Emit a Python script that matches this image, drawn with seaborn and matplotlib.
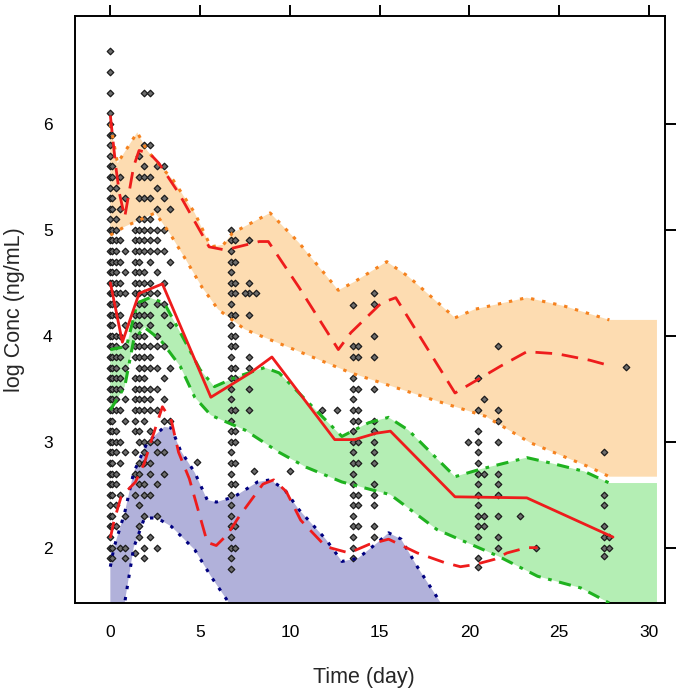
import matplotlib
matplotlib.use("Agg")
import matplotlib.pyplot as plt
import seaborn as sns
import pandas as pd

# observed data, one vertical stack of log conc per sampling time
obs_times = [0.0, 0.12, 0.3, 0.55, 0.8, 1.35, 1.6, 1.9, 2.2, 2.6, 3.0, 3.3,
             4.8, 6.7, 6.95, 7.7, 7.5, 8.1, 8.0, 10.0, 11.8, 12.6,
             13.5, 13.8, 14.7, 19.9, 20.5, 20.8, 21.6, 22.8, 23.7, 27.5, 27.8, 28.7]
obs_concs = [
    [6.69, 6.49, 6.29, 6.1, 6.0, 5.9, 5.8, 5.7, 5.6, 5.5, 5.4, 5.3, 5.2, 5.1, 5.0, 4.9, 4.8, 4.7,
     4.6, 4.5, 4.4, 4.3, 4.2, 4.1, 4.0, 3.9, 3.8, 3.7, 3.6, 3.5, 3.4, 3.3, 3.2, 3.1, 3.0, 2.9,
     2.8, 2.7, 2.6, 2.5, 2.4, 2.3, 2.2, 2.1, 2.0, 1.9],
    [5.9, 5.6, 5.5, 5.3, 5.2, 5.0, 4.9, 4.8, 4.7, 4.6, 4.5, 4.4, 4.3, 4.2, 4.1, 4.0, 3.9, 3.8,
     3.7, 3.6, 3.5, 3.4, 3.3, 3.2, 3.1, 3.0, 2.9, 2.8, 2.7, 2.6, 2.5, 2.3, 2.2, 2.0, 1.9],
    [5.4, 5.1, 5.0, 4.9, 4.8, 4.7, 4.6, 4.5, 4.4, 4.3, 4.2, 4.0, 3.9, 3.8, 3.7, 3.6, 3.5, 3.4,
     3.3, 3.1, 3.0, 2.9, 2.7, 2.6, 2.4, 2.2],
    [5.5, 5.2, 4.9, 4.7, 4.5, 4.4, 4.2, 4.0, 3.8, 3.6, 3.5, 3.3, 3.0, 2.8, 2.5, 2.0],
    [5.3, 4.8, 4.6, 4.4, 4.1, 3.9, 3.7, 3.4, 3.2, 2.9, 2.3, 2.0, 1.9],
    [5.0, 4.9, 4.8, 4.7, 4.6, 4.5, 4.4, 4.2, 4.1, 4.0, 3.9, 3.8, 3.6, 3.5, 3.4, 3.3, 3.2, 3.1,
     2.9, 2.7, 2.5, 1.95],
    [5.7, 5.5, 5.3, 5.1, 5.0, 4.9, 4.8, 4.7, 4.6, 4.5, 4.4, 4.3, 4.2, 4.1, 4.0, 3.9, 3.8, 3.7,
     3.6, 3.5, 3.4, 3.3, 3.1, 3.0, 2.8, 2.7, 2.6, 2.4, 2.2, 2.1],
    [6.29, 5.8, 5.6, 5.5, 5.3, 5.1, 5.0, 4.9, 4.8, 4.6, 4.5, 4.4, 4.3, 4.2, 4.0, 3.9, 3.8, 3.7,
     3.6, 3.5, 3.4, 3.3, 3.2, 3.0, 2.9, 2.8, 2.6, 2.5, 2.3, 2.0, 1.9],
    [6.29, 5.8, 5.5, 5.3, 5.1, 5.0, 4.9, 4.8, 4.7, 4.5, 4.4, 4.2, 4.1, 3.9, 3.8, 3.7, 3.5, 3.4,
     3.3, 3.1, 3.0, 2.8, 2.7, 2.5, 2.1],
    [5.6, 5.4, 5.2, 5.0, 4.9, 4.8, 4.6, 4.4, 4.3, 4.0, 3.9, 3.7, 3.5, 3.3, 3.0, 2.9, 2.6, 2.3, 2.0],
    [5.6, 5.3, 5.0, 4.8, 4.5, 4.3, 4.2, 3.9, 3.6, 3.4, 3.2, 2.9, 2.7],
    [5.2, 4.7, 4.1, 3.7, 3.2],
    [2.81],
    [5.0, 4.9, 4.8, 4.7, 4.6, 4.5, 4.4, 4.3, 4.2, 4.1, 4.0, 3.9, 3.8, 3.7, 3.6, 3.5, 3.4, 3.3,
     3.2, 3.1, 3.0, 2.9, 2.8, 2.7, 2.6, 2.5, 2.4, 2.3, 2.2, 2.1, 2.0, 1.9, 1.8],
    [4.9, 4.7, 4.5, 4.4, 4.2, 4.0, 3.9, 3.7, 3.6, 3.3, 3.1, 3.0, 2.8, 2.6, 2.2, 2.0],
    [4.9, 4.5, 4.4, 4.2, 3.8, 3.7, 3.5, 3.3],
    [4.4], [4.4], [2.72], [2.72], [3.3], [3.3],
    [4.29, 3.9, 3.8, 3.6, 3.5, 3.4, 3.3, 3.2, 3.1, 3.0, 2.9, 2.8, 2.7, 2.6, 2.5, 2.4, 2.3, 2.2,
     2.1, 2.0, 1.9],
    [3.9, 3.8, 3.5, 3.3, 3.2, 3.0, 2.8, 2.5, 2.4, 2.2],
    [4.4, 4.3, 4.0, 3.8, 3.5, 3.2, 3.1, 3.0, 2.9, 2.8, 2.6, 2.5, 2.4, 2.2, 2.1],
    [3.0],
    [3.6, 3.3, 3.1, 3.0, 2.9, 2.8, 2.7, 2.6, 2.5, 2.4, 2.3, 2.2, 2.1, 1.9, 1.82],
    [3.4, 2.7, 2.3, 2.2],
    [3.9, 3.3, 3.2, 3.0, 2.7, 2.6, 2.5, 2.3, 2.1, 2.0],
    [2.3], [2.0],
    [2.9, 2.5, 2.4, 2.2, 2.1, 2.0, 1.92],
    [2.1, 2.0],
    [3.71],
]

# observed percentiles (red)
obs_med_t = [0, 0.67, 1.6, 2.9, 5.6, 7.8, 9.0, 12.5, 13.6, 14.8, 15.6, 19.2, 23.2, 28.0]
obs_med = [4.50, 3.94, 4.40, 4.49, 3.42, 3.65, 3.80, 3.02, 3.02, 3.08, 3.10, 2.48, 2.47, 2.10]
obs_hi_t = [0, 0.3, 0.5, 0.8, 1.3, 1.6, 2.2, 2.7, 3.8, 5.5, 6.4, 8.3, 8.8, 10.5, 12.7, 13.4,
            15.1, 15.9, 19.2, 21.7, 23.2, 24.9, 26.7, 28.0]
obs_hi = [6.08, 5.6, 5.35, 5.12, 5.6, 5.75, 5.72, 5.63, 5.35, 4.84, 4.81, 4.89, 4.89, 4.46, 3.87,
          4.03, 4.31, 4.36, 3.46, 3.71, 3.85, 3.83, 3.77, 3.71]
obs_lo_t = [0, 0.2, 0.6, 1.4, 1.9, 2.3, 2.9, 3.4, 3.8, 4.4, 4.9, 5.4, 5.9, 6.5, 7.2, 8.5, 9.1,
            9.8, 10.6, 12.0, 13.3, 14.4, 15.5, 17.1, 18.6, 19.5, 20.3, 21.4, 22.1, 23.2, 23.8]
obs_lo = [2.09, 2.25, 2.48, 2.62, 2.8, 3.02, 3.33, 3.2, 2.9, 2.65, 2.35, 2.05, 2.02, 2.12, 2.3,
          2.6, 2.64, 2.53, 2.26, 2.01, 1.95, 2.03, 2.08, 1.95, 1.86, 1.82, 1.84, 1.89, 1.95, 2.0, 2.0]

# simulated CI of the 95th percentile (orange)
hi_ci_up_t = [0, 0.4, 1.5, 2.05, 2.8, 3.5, 4.7, 5.6, 6.3, 6.8, 8.9, 10.5, 12.7, 13.6, 15.4,
              16.6, 19.2, 20.3, 23.2, 25.3, 27.8]
hi_ci_up = [6.0, 5.63, 5.92, 5.75, 5.6, 5.47, 5.16, 4.84, 4.86, 4.97, 5.16, 4.88, 4.43, 4.51,
            4.70, 4.56, 4.17, 4.25, 4.36, 4.28, 4.15]
hi_ci_lo_t = [0, 0.8, 2.5, 3.3, 4.2, 5.1, 6.0, 7.5, 10.1, 13.4, 17.9, 20.9, 23.4, 26.7, 27.8]
hi_ci_lo = [4.95, 5.03, 5.16, 4.97, 4.72, 4.46, 4.25, 4.06, 3.88, 3.65, 3.40, 3.24, 2.99, 2.76, 2.67]

# simulated CI of the median (green)
med_ci_up_t = [0, 0.9, 1.5, 2.2, 3.0, 3.9, 5.0, 5.8, 7.0, 8.6, 9.4, 12.9, 14.4, 15.5, 16.6,
               19.2, 20.6, 23.2, 24.5, 26.4, 27.8]
med_ci_up = [3.87, 3.9, 4.31, 4.36, 4.31, 4.03, 3.68, 3.52, 3.61, 3.70, 3.65, 3.05, 3.18, 3.23,
             3.11, 2.67, 2.74, 2.85, 2.80, 2.72, 2.61]
med_ci_lo_t = [0, 0.8, 1.3, 1.9, 2.8, 3.9, 4.7, 5.6, 7.5, 9.4, 10.9, 12.9, 15.6, 18.2, 21.6,
               23.8, 26.2, 27.1, 28.1]
med_ci_lo = [3.3, 3.52, 3.96, 4.08, 3.96, 3.71, 3.42, 3.25, 3.11, 2.9, 2.76, 2.62, 2.5, 2.17,
             1.92, 1.73, 1.62, 1.54, 1.45]

# simulated CI of the 5th percentile (blue)
lo_ci_up_t = [0, 0.2, 0.8, 1.3, 2.05, 3.0, 3.4, 3.9, 4.7, 5.4, 5.9, 6.9, 8.2, 8.9, 9.7, 10.5,
              12.0, 12.9, 13.8, 14.9, 15.5, 16.2, 17.1, 18.4, 19.0]
lo_ci_up = [1.82, 2.0, 2.33, 2.71, 2.99, 3.14, 3.13, 2.92, 2.71, 2.45, 2.43, 2.48, 2.62, 2.64,
            2.55, 2.36, 2.08, 1.87, 1.9, 2.05, 2.14, 2.08, 1.82, 1.48, 1.3]
lo_ci_lo_t = [0, 0.8, 1.3, 1.9, 2.6, 3.4, 4.7, 5.6, 6.6, 8.0, 19.0]
lo_ci_lo = [1.1, 1.48, 2.0, 2.28, 2.28, 2.2, 1.98, 1.73, 1.48, 1.2, 1.2]

band_end = 30.45  # last bin edge, the shaded areas run out to here

sns.set_style("white")
plt.rcParams["font.family"] = ["Liberation Sans", "DejaVu Sans"]

fig = plt.figure(figsize=(6.8, 6.92), dpi=100)
ax = fig.add_axes([0.110, 0.129, 0.868, 0.848])


def band(ax, ut, uy, lt, ly, fill, line, ls, extend=None):
    xs = list(ut) + ([band_end] if extend else []) + \
         ([band_end] if extend else []) + list(lt)[::-1]
    ys = list(uy) + ([extend[0]] if extend else []) + \
         ([extend[1]] if extend else []) + list(ly)[::-1]
    ax.fill(xs, ys, color=fill, lw=0, zorder=1)
    for t, y in ((ut, uy), (lt, ly)):
        sns.lineplot(x=t, y=y, ax=ax, sort=False, color=line, lw=2.2,
                     linestyle=ls, zorder=3)


band(ax, hi_ci_up_t, hi_ci_up, hi_ci_lo_t, hi_ci_lo, "#fddcb1", "#f5821f",
     (0, (1.1, 2.6)), extend=(4.15, 2.67))
band(ax, med_ci_up_t, med_ci_up, med_ci_lo_t, med_ci_lo, "#b4eeb4", "#1fb21f",
     (0, (4, 2.5, 1.2, 2.5)), extend=(2.61, 1.2))
band(ax, lo_ci_up_t, lo_ci_up, lo_ci_lo_t, lo_ci_lo, "#b1b1da", "#000080",
     (0, (1.1, 2.6)))

obs = pd.DataFrame({"time": [t for t, c in zip(obs_times, obs_concs) for _ in c],
                    "conc": [v for c in obs_concs for v in c]})
sns.scatterplot(data=obs, x="time", y="conc", ax=ax, marker="D", s=11,
                color="#6e6e6e", edgecolor="#1a1a1a", linewidth=0.9, zorder=2)

sns.lineplot(x=obs_med_t, y=obs_med, ax=ax, sort=False, color="#ee1c1c", lw=2.0, zorder=4)
sns.lineplot(x=obs_hi_t, y=obs_hi, ax=ax, sort=False, color="#ee1c1c", lw=2.0,
             linestyle=(0, (6, 3.5)), zorder=4)
sns.lineplot(x=obs_lo_t, y=obs_lo, ax=ax, sort=False, color="#ee1c1c", lw=2.0,
             linestyle=(0, (6, 3.5)), zorder=4)

ax.set_xlim(-1.98, 30.9)
ax.set_ylim(1.48, 7.02)
ax.set_xticks([0, 5, 10, 15, 20, 25, 30])
ax.set_yticks([2, 3, 4, 5, 6])
ax.tick_params(direction="out", length=8, width=1.4, top=True, right=True,
               labeltop=False, labelright=False, labelsize=12.5, pad=8,
               colors="black")
for sp in ax.spines.values():
    sp.set_linewidth(1.4)
    sp.set_color("black")

ax.set_xlabel("Time (day)", fontsize=15.5)
ax.set_ylabel("log Conc (ng/mL)", fontsize=15.5)
ax.xaxis.set_label_coords(0.49, -0.128)
ax.xaxis.label.set_va("center")
ax.yaxis.set_label_coords(-0.102, 0.5)
ax.yaxis.label.set_va("center")

plt.savefig("out.png", dpi=100)
